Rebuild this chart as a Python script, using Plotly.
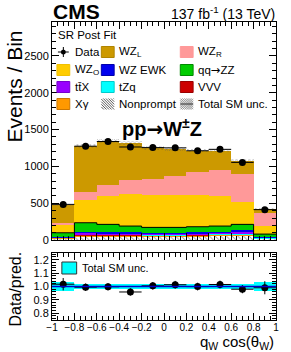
import numpy as np
import plotly.graph_objects as go

# ---------------- data ----------------
bin_edges = [-1.0, -0.8, -0.6, -0.4, -0.2, 0.0, 0.2, 0.4, 0.6, 0.8, 1.0]
nonprompt = [25, 55, 55, 55, 50, 50, 55, 60, 60, 20]
xgamma    = [5, 12, 12, 10, 10, 10, 10, 12, 18, 5]
vvv       = [2, 5, 5, 5, 5, 5, 5, 5, 5, 2]
tzq       = [3, 8, 8, 8, 8, 8, 8, 10, 8, 3]
ttx       = [5, 18, 15, 15, 15, 15, 15, 15, 20, 5]
wzewk     = [8, 15, 15, 12, 12, 12, 12, 12, 25, 8]
qqzz      = [52, 123, 104, 86, 73, 73, 77, 77, 78, 39]
wzo       = [100, 309, 386, 436, 436, 436, 427, 409, 309, 109]
wzr       = [36, 114, 150, 191, 223, 264, 309, 355, 372, 173]
wzl       = [241, 623, 591, 500, 418, 363, 296, 259, 182, 54]
data      = [485, 1275, 1338, 1264, 1256, 1252, 1213, 1232, 1055, 414]
unc_rel   = [0.033, 0.022, 0.02, 0.02, 0.02, 0.02, 0.02, 0.02, 0.022, 0.035]

y_ticks = [0, 500, 1000, 1500, 2000, 2500]
r_ticks = [0.8, 0.9, 1.0, 1.1, 1.2]
x_ticks = [-1, -0.8, -0.6, -0.4, -0.2, 0, 0.2, 0.4, 0.6, 0.8, 1]
x_labels = ["−1", "−0.8", "−0.6", "−0.4", "−0.2", "0", "0.2", "0.4", "0.6", "0.8", "1"]

# ---------------- derived ----------------
edges = np.array(bin_edges)
centers = 0.5 * (edges[1:] + edges[:-1])
widths = edges[1:] - edges[:-1]

stack = [
    ("Nonprompt", nonprompt, "#FFFFFF"),
    ("Xγ", xgamma, "#FF9900"),
    ("VVV", vvv, "#CC0000"),
    ("tZq", tzq, "#00FFFF"),
    ("ttX", ttx, "#9900FF"),
    ("WZ EWK", wzewk, "#0000EE"),
    ("qqZZ", qqzz, "#00CC00"),
    ("WZ_O", wzo, "#FFCC00"),
    ("WZ_R", wzr, "#FF9999"),
    ("WZ_L", wzl, "#CC9900"),
]

FONT = "Liberation Sans, Arial, Helvetica, sans-serif"
ARROW = '<span style="font-family:DejaVu Sans">→</span>'
fig = go.Figure()

base = np.zeros(len(centers))
green_top = None
for name, vals, col in stack:
    v = np.array(vals, dtype=float)
    if name == "Nonprompt":
        marker = dict(color="white", line=dict(width=0),
                      pattern=dict(shape="\\", fgcolor="#444444", bgcolor="white",
                                   size=4, solidity=0.25))
    else:
        marker = dict(color=col, line=dict(width=0))
    fig.add_trace(go.Bar(x=centers, y=v, base=base.copy(), width=widths,
                         marker=marker, name=name, showlegend=False,
                         xaxis="x", yaxis="y"))
    base = base + v
    if name == "qqZZ":
        green_top = base.copy()

total = base.copy()
unc_abs = np.array(unc_rel) * total

# black outline on top of qq->ZZ
fig.add_trace(go.Scatter(x=edges, y=np.append(green_top, green_top[-1]), mode="lines",
                         line=dict(color="black", width=1, shape="hv"),
                         showlegend=False, xaxis="x", yaxis="y", hoverinfo="skip"))

# total SM uncertainty (hatched)
fig.add_trace(go.Bar(x=centers, y=2 * unc_abs, base=total - unc_abs, width=widths,
                     marker=dict(color="rgba(0,0,0,0)", line=dict(width=0),
                                 pattern=dict(shape="x", fgcolor="#555555",
                                              bgcolor="rgba(0,0,0,0)", size=3, solidity=0.35)),
                     showlegend=False, xaxis="x", yaxis="y"))

# data
d = np.array(data, dtype=float)
fig.add_trace(go.Scatter(x=centers, y=d, mode="markers",
                         marker=dict(color="black", size=7),
                         error_y=dict(type="data", array=np.sqrt(d), color="black", thickness=1, width=0),
                         error_x=dict(type="data", array=widths / 2, color="black", thickness=1, width=0),
                         showlegend=False, xaxis="x", yaxis="y"))

# ratio panel
fig.add_trace(go.Bar(x=centers, y=2 * np.array(unc_rel), base=1 - np.array(unc_rel), width=widths,
                     marker=dict(color="#00FFFF", line=dict(width=0)),
                     showlegend=False, xaxis="x2", yaxis="y2"))
ratio = d / total
fig.add_trace(go.Scatter(x=centers, y=ratio, mode="markers",
                         marker=dict(color="black", size=7),
                         error_y=dict(type="data", array=np.sqrt(d) / total, color="black", thickness=1, width=0),
                         error_x=dict(type="data", array=widths / 2, color="black", thickness=1, width=0),
                         showlegend=False, xaxis="x2", yaxis="y2"))

# ---------------- layout ----------------
L, R, T, B = 52, 12, 22, 32
W, H = 291, 352
PW, PH = W - L - R, H - T - B


def xp(px):
    return (px - L) / PW


def yp(py):
    return (H - B - py) / PH


shapes = []
annos = []

# reference line at 1 in ratio panel
shapes.append(dict(type="line", xref="x2 domain", yref="y2", x0=0, x1=1, y0=1, y1=1,
                   line=dict(color="#0000CC", width=1.5), layer="above"))


def clip_hatch(x0, y0, x1, y1, step, direction, color, width=0.8):
    w, h = x1 - x0, y1 - y0
    out = []
    k = -h
    while k < w:
        t0 = max(0, -k)
        t1 = min(h, w - k)
        if t1 > t0:
            if direction == 1:
                ax, ay, bx, by = x0 + k + t0, y0 + t0, x0 + k + t1, y0 + t1
            else:
                ax, ay, bx, by = x0 + k + t0, y1 - t0, x0 + k + t1, y1 - t1
            out.append(dict(type="line", xref="paper", yref="paper",
                            x0=xp(ax), y0=yp(ay), x1=xp(bx), y1=yp(by),
                            line=dict(color=color, width=width)))
        k += step
    return out


def box(px0, py0, col, border=None):
    shapes.append(dict(type="rect", xref="paper", yref="paper",
                       x0=xp(px0), x1=xp(px0 + 13), y0=yp(py0 + 11), y1=yp(py0),
                       fillcolor=col, line=dict(color=border or col, width=1)))


def text(px, py, s, size=11.5, anchor="left", bold=False, color="black"):
    annos.append(dict(xref="paper", yref="paper", x=xp(px), y=yp(py), text=(f"<b>{s}</b>" if bold else s),
                      showarrow=False, xanchor=anchor, yanchor="middle",
                      font=dict(family=FONT, size=size, color=color)))


cols = [57, 102, 182]
rows = [52, 70, 87, 104]

text(56, 35, "SR Post Fit")
# data entry
shapes.append(dict(type="line", xref="paper", yref="paper", x0=xp(58), x1=xp(69), y0=yp(rows[0]), y1=yp(rows[0]),
                   line=dict(color="black", width=1)))
shapes.append(dict(type="line", xref="paper", yref="paper", x0=xp(63.5), x1=xp(63.5), y0=yp(rows[0] - 5), y1=yp(rows[0] + 5),
                   line=dict(color="black", width=1)))
shapes.append(dict(type="circle", xref="paper", yref="paper", x0=xp(61), x1=xp(66), y0=yp(rows[0] + 2.5), y1=yp(rows[0] - 2.5),
                   fillcolor="black", line=dict(color="black", width=0)))
text(cols[0] + 16, rows[0], "Data")

entries = [
    (cols[1], rows[0], "#CC9900", "#B08400", "WZ<sub>L</sub>"),
    (cols[2], rows[0], "#FF9999", "#FF9999", "WZ<sub>R</sub>"),
    (cols[0], rows[1], "#FFCC00", "#F0C000", "WZ<sub>O</sub>"),
    (cols[1], rows[1], "#0000EE", "#0000AA", "WZ EWK"),
    (cols[2], rows[1], "#00CC00", "#008800", "qq" + ARROW + "ZZ"),
    (cols[0], rows[2], "#9900FF", "#7700CC", "tt̄X"),
    (cols[1], rows[2], "#00FFFF", "#00CCCC", "tZq"),
    (cols[2], rows[2], "#CC0000", "#990000", "VVV"),
    (cols[0], rows[3], "#FF9900", "#CC7700", "Xγ"),
]
for cx, ry, col, bcol, lab in entries:
    box(cx, ry - 5.5, col, bcol)
    text(cx + 16, ry, lab)

# nonprompt legend hatch
nx, ny = cols[1], rows[3] - 5.5
shapes.append(dict(type="rect", xref="paper", yref="paper", x0=xp(nx), x1=xp(nx + 13), y0=yp(ny + 11), y1=yp(ny),
                   fillcolor="white", line=dict(width=0)))
shapes.extend(clip_hatch(nx, ny, nx + 13, ny + 11, 2.6, 1, "#333333"))
text(nx + 16, rows[3], "Nonprompt")

# total SM unc legend cross hatch
ux, uy = cols[2], rows[3] - 5.5
shapes.extend(clip_hatch(ux, uy, ux + 13, uy + 11, 2.2, 1, "#777777", 0.6))
shapes.extend(clip_hatch(ux, uy, ux + 13, uy + 11, 2.2, -1, "#777777", 0.6))
shapes.append(dict(type="line", xref="paper", yref="paper", x0=xp(ux), x1=xp(ux + 13), y0=yp(rows[3]), y1=yp(rows[3]),
                   line=dict(color="#333333", width=1)))
text(ux + 16, rows[3], "Total SM unc.")

# ratio legend
shapes.append(dict(type="rect", xref="paper", yref="paper", x0=xp(62), x1=xp(77), y0=yp(274), y1=yp(262),
                   fillcolor="#00FFFF", line=dict(color="#333333", width=1)))
text(80, 268, "Total SM unc.", size=11)

# titles
text(51, 12, "CMS", size=21, bold=True)
text(280, 13, "137 fb<sup>-1</sup> (13 TeV)", size=14, anchor="right")
text(121, 128, "pp" + ARROW + "W<sup>±</sup>Z", size=20, anchor="left", bold=True)
text(279, 342, "q<sub>W</sub> cos(θ<sub>W</sub>)", size=15, anchor="right")
annos.append(dict(xref="paper", yref="paper", x=xp(14), y=yp(87), text="Events / Bin", textangle=-90,
                  showarrow=False, xanchor="center", yanchor="middle", font=dict(family=FONT, size=21)))
annos.append(dict(xref="paper", yref="paper", x=xp(14), y=yp(289), text="Data/pred.", textangle=-90,
                  showarrow=False, xanchor="center", yanchor="middle", font=dict(family=FONT, size=16)))

axis_common = dict(showline=True, linecolor="black", linewidth=1, mirror="ticks",
                   ticks="inside", ticklen=7, tickcolor="black", showgrid=False, zeroline=False,
                   tickfont=dict(family=FONT, size=11, color="black"))

fig.update_layout(
    width=W, height=H, margin=dict(l=L, r=R, t=T, b=B),
    paper_bgcolor="white", plot_bgcolor="white",
    barmode="overlay", bargap=0, showlegend=False,
    font=dict(family=FONT, color="black"),
    xaxis=dict(domain=[0, 1], range=[-1, 1], anchor="y", matches="x2", showticklabels=False,
               tickvals=x_ticks, minor=dict(ticks="inside", ticklen=4, dtick=0.05, tickcolor="black"),
               **axis_common),
    yaxis=dict(domain=[0.268, 1], range=[0, 2960], anchor="x", tickvals=y_ticks,
               minor=dict(ticks="inside", ticklen=4, dtick=100, tickcolor="black"), **axis_common),
    xaxis2=dict(domain=[0, 1], range=[-1, 1], anchor="y2", tickvals=x_ticks, ticktext=x_labels, tickangle=0,
                ticklabelstandoff=-2,
                minor=dict(ticks="inside", ticklen=4, dtick=0.05, tickcolor="black"), **axis_common),
    yaxis2=dict(domain=[0, 0.225], range=[0.75, 1.25], anchor="x2", tickvals=r_ticks, tickformat=".1f",
                minor=dict(ticks="inside", ticklen=4, dtick=0.02, tickcolor="black"), **axis_common),
    shapes=shapes, annotations=annos,
)
fig.update_xaxes(tickfont=dict(size=10))

fig.write_html("out.html", config={"displayModeBar": False},
               post_script="document.body.style.margin='0px';document.body.style.padding='0px';")
